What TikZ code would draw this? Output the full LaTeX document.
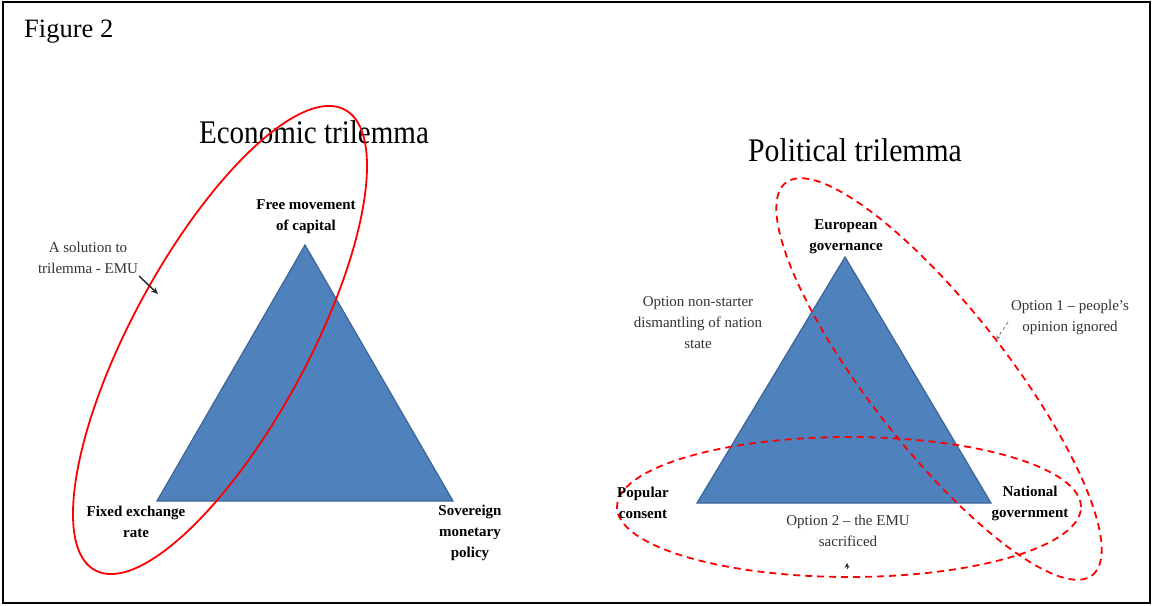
\documentclass[tikz,border=0pt]{standalone}
\usepackage{fontspec}
\setmainfont{Liberation Serif}
\usetikzlibrary{arrows.meta}
\definecolor{triblue}{HTML}{4F81BD}
\definecolor{triedge}{HTML}{3C6496}
\definecolor{labelgray}{HTML}{333333}
\begin{document}
\begin{tikzpicture}[x=1pt,y=-1pt,
  tri/.style={fill=triblue,draw=triedge,line width=1.2pt,line join=miter},
  solidring/.style={draw=red,line width=1.8pt},
  dashring/.style={draw=red,line width=1.8pt,dash pattern=on 7pt off 5pt},
  corner/.style={font=\fontsize{15}{21}\selectfont\bfseries,align=center,text=black,inner sep=0pt},
  note/.style={font=\fontsize{15}{21}\selectfont,align=center,text=labelgray,inner sep=0pt},
  heading/.style={inner sep=0pt,text=black}
]
\useasboundingbox (0,0) rectangle (1153,605);
\draw[line width=1.6pt] (3,2) rectangle (1150,603);

\node[heading,anchor=west] (fig) at (24,32) {\fontsize{26.5}{26.5}\selectfont Figure 2};

% economic trilemma
\node[heading] (etitle) at (314,132) {\scalebox{0.88}[1]{\fontsize{33}{33}\selectfont Economic trilemma}};
\coordinate (eA) at (305,245);
\coordinate (eL) at (157,501);
\coordinate (eR) at (453,501);
\draw[tri] (eA) -- (eR) -- (eL) -- cycle;
\draw[solidring,rotate around={61.5:(220,340)}] (220,340) ellipse [x radius=262pt, y radius=88pt];

\node[corner] (capital) at (306,217) {Free movement\\of capital};
\node[corner] (fixed) at (136,522) {Fixed exchange\\rate};
\node[corner] (sovereign) at (470,533) {Sovereign\\monetary\\policy};
\node[note] (emu) at (88,258) {A solution to\\trilemma - EMU};
\coordinate (emutip) at (158,294);
\draw[-{Stealth[length=7pt,width=6pt]},line width=1.4pt,black!85] (139,276) -- (emutip);

% political trilemma
\node[heading] (ptitle) at (855,150) {\scalebox{0.9}[1]{\fontsize{33}{33}\selectfont Political trilemma}};
\coordinate (pA) at (845,257);
\coordinate (pL) at (697,503);
\coordinate (pR) at (991,503);
\draw[tri] (pA) -- (pR) -- (pL) -- cycle;
\draw[dashring,rotate around={-52:(939,379)}] (939,379) ellipse [x radius=249pt, y radius=69pt];
\draw[dashring] (849,507) ellipse [x radius=232pt, y radius=70pt];

\node[corner] (euro) at (846,237) {European\\governance};
\node[corner] (popular) at (643,503) {Popular\\consent};
\node[corner] (national) at (1030,503) {National\\government};
\node[note] (starter) at (698,323) {Option non-starter\\dismantling of nation\\state};
\node[note] (opt1) at (1070,317) {Option 1 -- people's\\opinion ignored};
\node[note] (opt2) at (848,531) {Option 2 -- the EMU\\sacrificed};
\coordinate (opt1tip) at (996,340);
\draw[-{Stealth[length=5pt,width=4pt]},line width=1pt,gray,dash pattern=on 3pt off 3pt] (1008,322) -- (opt1tip);
\coordinate (opt2tip) at (847,563);
\draw[-{Stealth[length=5pt,width=5pt]},line width=0.6pt,black!80] (847,569) -- (opt2tip);
\end{tikzpicture}
\end{document}
